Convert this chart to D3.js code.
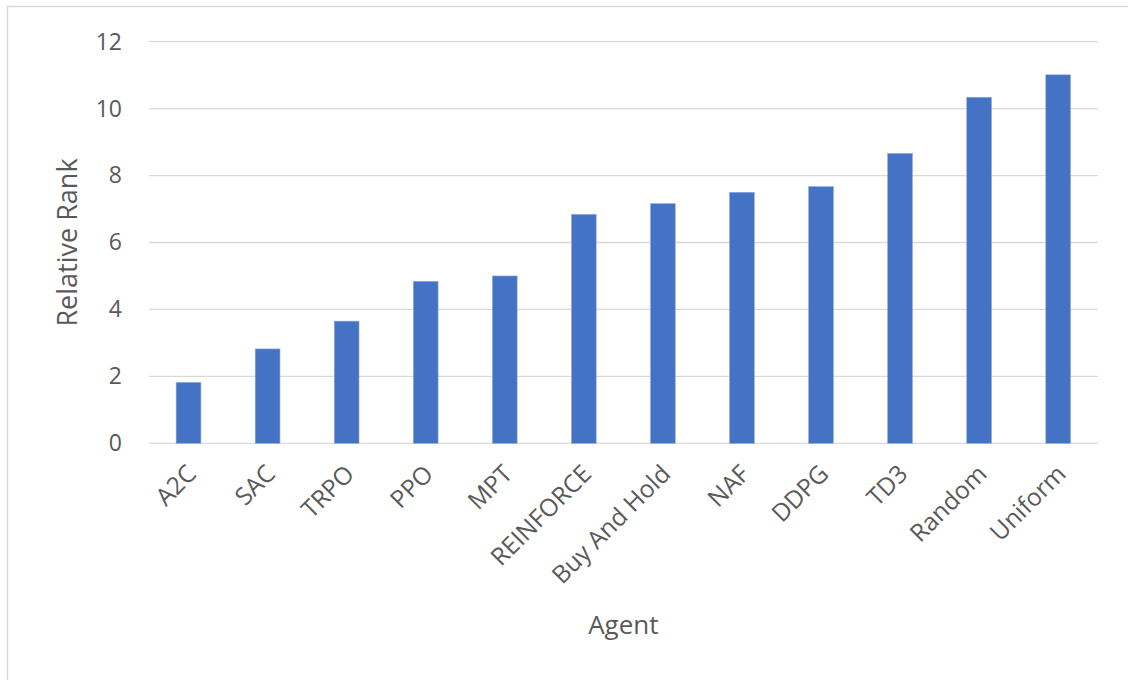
<!DOCTYPE html>
<html>
<head>
<meta charset="utf-8">
<script src="https://cdn.jsdelivr.net/npm/d3@7"></script>
<style>
  body { margin: 0; background: #fff; }
  svg { display: block; }
</style>
</head>
<body>
<div id="chart"></div>
<script>
// data
const agents = ["A2C", "SAC", "TRPO", "PPO", "MPT", "REINFORCE", "Buy And Hold", "NAF", "DDPG", "TD3", "Random", "Uniform"];
const ranks = [1.82, 2.82, 3.65, 4.84, 5.0, 6.84, 7.16, 7.5, 7.67, 8.66, 10.34, 11.01];
const yTicks = [0, 2, 4, 6, 8, 10, 12];

const W = 1128, H = 680;
const m = { left: 149, right: 1128 - 1097.7, top: 41.7, bottom: 680 - 443.3 };
const font = "'Open Sans', 'Noto Sans', sans-serif";
const textColor = "#595959";

const svg = d3.select("#chart").append("svg")
  .attr("width", W)
  .attr("height", H);

// chart area border (only left/top visible in the reference)
svg.append("rect")
  .attr("x", 7.5).attr("y", 6.5)
  .attr("width", 1300).attr("height", 900)
  .attr("fill", "none")
  .attr("stroke", "#d9d9d9")
  .attr("stroke-width", 1.5);

const x = d3.scaleBand()
  .domain(agents)
  .range([m.left, W - m.right])
  .paddingInner(0.687)
  .paddingOuter(0.3435);

const y = d3.scaleLinear()
  .domain([0, 12])
  .range([H - m.bottom, m.top]);

// gridlines
svg.append("g")
  .selectAll("line")
  .data(yTicks)
  .join("line")
  .attr("x1", m.left)
  .attr("x2", W - m.right)
  .attr("y1", d => y(d))
  .attr("y2", d => y(d))
  .attr("stroke", "#d9d9d9")
  .attr("stroke-width", 1.3);

// y axis labels
const yAxis = svg.append("g")
  .attr("transform", `translate(${m.left},0)`)
  .call(d3.axisLeft(y).tickValues(yTicks).tickSize(0).tickPadding(27));
yAxis.select(".domain").remove();
yAxis.selectAll("text")
  .style("font-family", font)
  .style("font-size", "23px")
  .attr("fill", textColor);

// bars
svg.append("g")
  .selectAll("rect")
  .data(agents)
  .join("rect")
  .attr("x", d => x(d))
  .attr("width", x.bandwidth())
  .attr("y", (d, i) => y(ranks[i]))
  .attr("height", (d, i) => y(0) - y(ranks[i]))
  .attr("fill", "#4472c4")
  .attr("stroke", "#8faadc")
  .attr("stroke-width", 0.6);

// x axis labels, rotated
svg.append("g")
  .selectAll("text")
  .data(agents)
  .join("text")
  .attr("transform", d => `translate(${x(d) + x.bandwidth() / 2 - 3},${y(0) + 20}) rotate(-45)`)
  .attr("text-anchor", "end")
  .attr("dy", "0.7em")
  .style("font-family", font)
  .style("font-size", "24.5px")
  .attr("fill", textColor)
  .text(d => d);

// axis titles
svg.append("text")
  .attr("x", (m.left + W - m.right) / 2)
  .attr("y", 634)
  .attr("text-anchor", "middle")
  .style("font-family", font)
  .style("font-size", "26px")
  .attr("fill", textColor)
  .text("Agent");

svg.append("text")
  .attr("transform", `translate(77,${(m.top + H - m.bottom) / 2}) rotate(-90)`)
  .attr("text-anchor", "middle")
  .style("font-family", font)
  .style("font-size", "27px")
  .attr("fill", textColor)
  .text("Relative Rank");
</script>
</body>
</html>
